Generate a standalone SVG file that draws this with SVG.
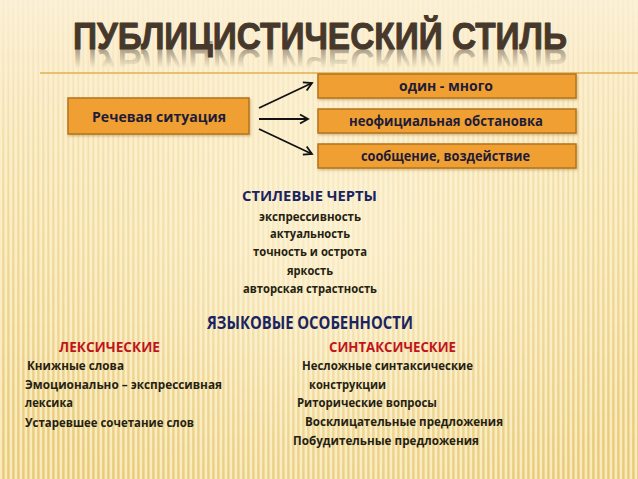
<svg xmlns="http://www.w3.org/2000/svg" xmlns:xlink="http://www.w3.org/1999/xlink" width="638" height="479" viewBox="0 0 638 479">
<style>
.t{font-family:"Open Sans","Noto Sans","Liberation Sans",sans-serif;font-weight:700;}
.sm{font-size:13px;fill:#261f12;}
.hd{font-size:15px;fill:#1a2460;}
.red{font-size:15px;fill:#c0141c;}
.bx{fill:#f0a032;stroke:#b5731c;stroke-width:1.5;}
.bt{font-size:14px;fill:#1e1c38;}
.arr{stroke:#111;stroke-width:1.8;fill:none;marker-end:url(#ah);}
</style>
<defs>
<linearGradient id="bg" x1="0" y1="0" x2="0" y2="1">
<stop offset="0" stop-color="#fcf0d6"/>
<stop offset="0.45" stop-color="#f8e6b2"/>
<stop offset="1" stop-color="#f0d68c"/>
</linearGradient>
<radialGradient id="glow" cx="330" cy="240" r="330" gradientUnits="userSpaceOnUse">
<stop offset="0" stop-color="#fdf5dc" stop-opacity="0.7"/>
<stop offset="0.6" stop-color="#fdf5dc" stop-opacity="0.2"/>
<stop offset="1" stop-color="#fdf5dc" stop-opacity="0"/>
</radialGradient>
<pattern id="stripes" width="5" height="10" patternUnits="userSpaceOnUse">
<rect x="0" y="0" width="2" height="10" fill="#fff8e0" opacity="0.6"/>
<rect x="2.5" y="0" width="1.5" height="10" fill="#d4ae55" opacity="0.3"/>
</pattern>
<linearGradient id="stripeFade" x1="0" y1="0" x2="0" y2="1">
<stop offset="0" stop-color="#fff" stop-opacity="0.15"/>
<stop offset="0.4" stop-color="#fff" stop-opacity="0.75"/>
<stop offset="1" stop-color="#fff" stop-opacity="1"/>
</linearGradient>
<mask id="sm"><rect width="638" height="479" fill="url(#stripeFade)"/></mask>
<linearGradient id="refl" x1="0" y1="49" x2="0" y2="30" gradientUnits="userSpaceOnUse">
<stop offset="0" stop-color="#4a3b2e" stop-opacity="0.45"/>
<stop offset="1" stop-color="#4a3b2e" stop-opacity="0"/>
</linearGradient>
<marker id="ah" markerWidth="12" markerHeight="12" refX="10" refY="6" orient="auto" markerUnits="userSpaceOnUse">
<path d="M2,1.5 L10,6 L2,10.5" fill="none" stroke="#111" stroke-width="1.8"/>
</marker>
<filter id="sh" x="-10%" y="-20%" width="120%" height="150%">
<feDropShadow dx="1" dy="1.5" stdDeviation="1" flood-color="#8a5a10" flood-opacity="0.35"/>
</filter>
<text id="titleText" x="73" y="49" textLength="494" lengthAdjust="spacingAndGlyphs" font-family="Liberation Sans, Arial, sans-serif" font-weight="700" font-size="37" stroke-width="1" stroke-linejoin="round">ПУБЛИЦИСТИЧЕСКИЙ СТИЛЬ</text>
</defs>

<rect width="638" height="479" fill="url(#bg)"/>
<rect width="638" height="479" fill="url(#stripes)" mask="url(#sm)"/>
<rect width="638" height="479" fill="url(#glow)"/>

<g id="title">
<use xlink:href="#titleText" href="#titleText" fill="#46382b" stroke="#46382b"/>
<use xlink:href="#titleText" href="#titleText" fill="url(#refl)" stroke="none" transform="translate(0,98) scale(1,-1)"/>
</g>
<line x1="40" y1="73" x2="638" y2="73" stroke="#e0b050" stroke-width="1.5"/>

<g id="node-situation">
<rect class="bx" x="68" y="98" width="181" height="36" filter="url(#sh)"/>
<text class="t bt" x="92" y="122" textLength="134" lengthAdjust="spacingAndGlyphs">Речевая ситуация</text>
</g>
<g id="node-one-many">
<rect class="bx" x="318" y="74" width="258" height="24" filter="url(#sh)"/>
<text class="t bt" x="399" y="91" textLength="94" lengthAdjust="spacingAndGlyphs">один - много</text>
</g>
<g id="node-informal">
<rect class="bx" x="318" y="109" width="258" height="24" filter="url(#sh)"/>
<text class="t bt" x="349" y="126" textLength="194" lengthAdjust="spacingAndGlyphs">неофициальная обстановка</text>
</g>
<g id="node-message">
<rect class="bx" x="318" y="144" width="258" height="24" filter="url(#sh)"/>
<text class="t bt" x="361" y="161" textLength="169" lengthAdjust="spacingAndGlyphs">сообщение, воздействие</text>
</g>

<g id="connectors">
<line class="arr" x1="259" y1="108" x2="312" y2="83"/>
<line class="arr" x1="259" y1="119" x2="308" y2="119"/>
<line class="arr" x1="259" y1="129" x2="312" y2="154"/>
</g>

<g id="style-features">
<text class="t hd" x="242" y="201" textLength="135" lengthAdjust="spacingAndGlyphs">СТИЛЕВЫЕ ЧЕРТЫ</text>
<text class="t sm" x="259" y="221" textLength="102" lengthAdjust="spacingAndGlyphs">экспрессивность</text>
<text class="t sm" x="270" y="238" textLength="80" lengthAdjust="spacingAndGlyphs">актуальность</text>
<text class="t sm" x="253" y="256" textLength="114" lengthAdjust="spacingAndGlyphs">точность и острота</text>
<text class="t sm" x="287" y="275" textLength="46" lengthAdjust="spacingAndGlyphs">яркость</text>
<text class="t sm" x="243" y="293" textLength="134" lengthAdjust="spacingAndGlyphs">авторская страстность</text>
</g>

<g id="language-features">
<text class="t hd" x="207" y="329" style="font-size:17.5px" textLength="206" lengthAdjust="spacingAndGlyphs">ЯЗЫКОВЫЕ ОСОБЕННОСТИ</text>
</g>

<g id="lexical">
<text class="t red" x="59" y="352" textLength="101" lengthAdjust="spacingAndGlyphs">ЛЕКСИЧЕСКИЕ</text>
<text class="t sm" x="27" y="370" textLength="97" lengthAdjust="spacingAndGlyphs">Книжные слова</text>
<text class="t sm" x="25" y="389" textLength="197" lengthAdjust="spacingAndGlyphs">Эмоционально – экспрессивная</text>
<text class="t sm" x="25" y="407" textLength="48" lengthAdjust="spacingAndGlyphs">лексика</text>
<text class="t sm" x="25" y="427" textLength="169" lengthAdjust="spacingAndGlyphs">Устаревшее сочетание слов</text>
</g>

<g id="syntactic">
<text class="t red" x="329" y="352" textLength="127" lengthAdjust="spacingAndGlyphs">СИНТАКСИЧЕСКИЕ</text>
<text class="t sm" x="302" y="370" textLength="171" lengthAdjust="spacingAndGlyphs">Несложные синтаксические</text>
<text class="t sm" x="309" y="389" textLength="77" lengthAdjust="spacingAndGlyphs">конструкции</text>
<text class="t sm" x="297" y="407" textLength="140" lengthAdjust="spacingAndGlyphs">Риторические вопросы</text>
<text class="t sm" x="305" y="426" textLength="198" lengthAdjust="spacingAndGlyphs">Восклицательные предложения</text>
<text class="t sm" x="293" y="445" textLength="186" lengthAdjust="spacingAndGlyphs">Побудительные предложения</text>
</g>
</svg>
